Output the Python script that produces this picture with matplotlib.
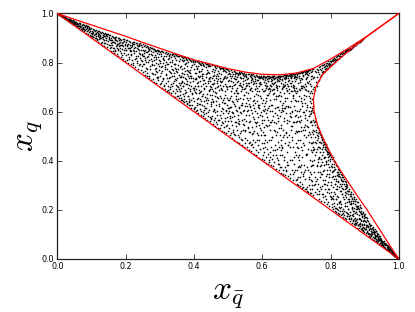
import numpy as np
import matplotlib
matplotlib.use('Agg')
import matplotlib.pyplot as plt

plt.rcParams['mathtext.fontset'] = 'cm'

# boundary of the allowed region (upper curve); the right curve is its mirror image
bound_xqbar = [0.0, 0.05, 0.10, 0.15, 0.20, 0.25, 0.30, 0.35, 0.40, 0.45, 0.50,
               0.55, 0.60, 0.65, 0.70, 0.75, 0.80, 0.85, 0.90, 0.95, 1.0]
bound_xq = [1.0, 0.976, 0.953, 0.930, 0.907, 0.882, 0.858, 0.834, 0.811, 0.793, 0.775,
            0.761, 0.752, 0.750, 0.757, 0.776, 0.814, 0.856, 0.901, 0.950, 1.0]
diag_xqbar = [0.0, 1.0]
diag_xq = [1.0, 0.0]

# sampled events, (x_qbar, x_q) pairs in units of 1/1000, read strip by strip
corner_left = [3,998, 5,996, 6,995, 7,995, 8,993, 9,994, 10,991, 11,992, 12,989, 13,990, 14,988, 14,990, 15,987, 16,989, 17,985, 18,987, 19,983, 19,987, 20,984, 21,986, 22,981, 22,985, 23,983, 24,979, 25,982, 26,976, 27,980, 28,975, 29,978, 29,974, 30,973, 31,979, 32,971, 33,976, 33,979, 34,969, 35,974, 36,978, 36,967, 37,966, 38,972, 39,969, 40,963, 41,975, 42,967, 43,961, 43,966, 44,970, 45,958, 46,966, 47,972, 48,955, 48,960, 49,962, 50,968,
    51,960, 52,966, 53,952, 54,957, 55,964, 56,948, 57,955, 58,961, 58,950, 59,944, 60,952, 61,958, 62,947, 63,962, 64,940, 65,950, 66,956, 66,947, 67,944, 68,959, 69,936, 70,948, 71,953, 72,931, 73,941, 74,955, 74,940, 75,935, 76,946, 77,951, 78,927, 79,938, 80,949, 81,932, 82,943, 83,951, 84,922, 85,936, 86,945, 87,928, 87,948, 88,940, 89,947, 90,917, 91,933, 92,941, 93,925, 93,935, 94,944, 95,912, 96,930, 97,938, 98,920, 99,941, 100,908]

band_left = [101,915, 102,930, 103,909, 104,938, 105,905, 106,922, 108,933, 109,912, 110,927, 111,900, 112,920, 113,918, 114,932, 115,891, 116,925, 117,894, 118,908, 119,930, 120,885, 121,917, 122,927, 123,904, 124,898, 125,912, 126,925, 127,880, 128,920, 130,904, 131,924, 132,873, 133,913, 134,896, 135,921, 136,890, 137,918, 138,868, 139,907, 140,920, 141,881, 142,912, 143,917, 144,898, 145,915, 146,862, 147,906, 148,915, 149,887, 150,911,
    151,870, 152,905, 153,890, 154,858, 155,912, 156,880, 157,898, 157,865, 158,848, 159,908, 160,872, 161,893, 162,845, 163,905, 164,885, 165,860, 166,900, 167,840, 168,878, 168,892, 169,905, 170,852, 171,893, 172,868, 173,902, 174,834, 175,887, 176,858, 177,899, 178,876, 179,828, 179,850, 180,892, 181,866, 182,900, 183,845, 184,884, 185,897, 185,872, 186,822, 187,872, 188,893, 189,856, 190,880, 190,830, 191,896, 192,815, 193,866, 194,889, 195,840, 196,894, 197,872, 198,808, 199,858, 200,890,
    201,850, 202,885, 203,812, 204,868, 205,890, 205,870, 206,835, 207,877, 208,800, 209,858, 210,888, 211,822, 212,872, 213,846, 213,860, 214,884, 215,795, 215,845, 216,862, 217,830, 218,880, 219,810, 220,868, 221,884, 222,850, 222,875, 223,788, 224,875, 225,838, 226,883, 227,815, 228,862, 229,780, 230,878, 231,845, 231,825, 232,870, 233,800, 234,881, 235,826, 235,866, 236,857, 237,772, 238,875, 239,840, 240,866, 240,850, 241,795, 242,878, 243,818, 244,853, 244,870, 245,768, 246,872, 247,834, 247,785, 248,862, 249,806, 250,874,
    102,920, 106,905, 110,915, 114,900, 118,912, 122,895, 126,908, 130,885, 134,905, 138,880, 142,898, 146,875, 150,895, 154,870, 158,890, 162,860, 166,885, 170,845, 174,875, 178,855, 182,880, 186,840, 190,870, 194,850, 198,875, 202,830, 206,860, 210,815, 214,850, 218,870, 222,800, 226,845, 230,820, 234,860, 238,790, 242,835, 246,810, 250,850, 104,925, 112,910, 120,920, 128,900, 136,910, 144,890, 152,900, 160,885, 168,895, 176,870, 184,860, 192,885, 200,850, 208,875, 216,835, 224,860, 232,805, 240,870, 248,830]

band_mid = [251,763, 252,827, 253,866, 254,795, 255,848, 255,825, 256,872, 257,812, 258,748, 258,853, 259,862, 260,777, 261,843, 262,868, 262,756, 263,821, 264,745, 265,858, 265,845, 266,803, 267,864, 268,835, 268,855, 269,738, 270,849, 270,857, 271,772, 272,862, 273,815, 274,845, 275,728, 275,859, 276,858, 277,788, 278,832, 278,795, 279,856, 280,752, 281,843, 282,809, 282,855, 283,857, 284,722, 285,832, 285,845, 286,851, 287,775, 288,848, 288,822, 289,798, 290,716, 290,767, 291,838, 292,853, 292,735, 293,761, 294,824, 295,849, 296,743, 296,845, 297,812, 298,846, 298,834, 299,785, 300,842,
    301,713, 302,797, 303,845, 304,758, 304,835, 305,826, 306,698, 307,846, 308,785, 308,725, 309,819, 310,735, 310,815, 311,843, 312,706, 312,826, 313,812, 314,774, 315,838, 315,783, 316,693, 317,826, 318,751, 318,804, 319,842, 320,795, 320,737, 321,684, 322,835, 323,723, 324,815, 324,688, 325,838, 326,764, 326,828, 327,679, 327,817, 328,831, 329,801, 330,836, 330,702, 331,742, 332,674, 333,822, 333,757, 334,785, 335,834, 336,705, 336,832, 337,812, 338,836, 339,662, 340,769, 340,715, 341,828, 342,746, 342,827, 343,796, 344,833, 344,733, 345,658, 346,818, 346,792, 347,694, 348,829, 349,772, 349,811, 350,825,
    351,665, 352,762, 353,828, 353,791, 354,699, 355,805, 355,825, 356,655, 357,828, 358,741, 358,686, 359,815, 360,683, 361,787, 361,718, 362,826, 362,745, 363,648, 364,721, 364,812, 365,822, 365,759, 366,773, 367,643, 368,808, 368,819, 369,704, 370,824, 370,665, 371,755, 372,638, 372,812, 373,795, 374,822, 375,676, 375,793, 376,814, 377,732, 377,799, 378,817, 379,633, 379,771, 380,785, 381,711, 381,812, 382,818, 383,664, 383,745, 384,802, 385,763, 385,642, 386,816, 386,651, 387,625, 388,692, 388,768, 389,812, 389,628, 390,745, 391,805, 391,735, 392,615, 393,782, 393,807, 394,814, 395,673, 395,789, 396,802, 397,725, 397,808, 398,812, 399,612, 399,697, 400,795,
    401,614, 402,757, 403,808, 404,681, 404,803, 405,786, 405,734, 406,603, 407,738, 408,805, 408,772, 409,652, 410,779, 410,625, 411,722, 412,802, 412,703, 413,595, 413,785, 414,765, 415,689, 415,805, 416,797, 416,761, 417,631, 418,792, 418,794, 419,745, 419,678, 420,586, 421,803, 421,644, 422,705, 422,791, 423,775, 424,663, 424,747, 425,798, 425,754, 426,583, 427,728, 427,788, 428,795, 428,671, 429,622, 430,785, 430,607, 431,698, 431,592, 432,798, 433,575, 433,717, 434,755, 434,613, 435,795, 436,647, 436,781, 437,769, 437,793, 438,566, 439,792, 439,656, 440,724, 440,795, 441,785, 442,598, 442,762, 443,791, 443,731, 444,684, 445,758, 445,785, 446,787, 446,705, 447,563, 448,742, 448,691, 449,792, 449,575, 450,639,
    451,571, 452,739, 452,694, 453,788, 454,653, 454,765, 455,775, 455,602, 456,548, 457,712, 457,638, 458,788, 458,748, 459,611, 460,763, 460,718, 461,681, 461,785, 462,783, 463,542, 463,597, 463,771, 464,735, 465,643, 466,778, 466,558, 467,588, 467,701, 468,755, 469,784, 469,725, 469,659, 470,535, 471,706, 472,767, 472,744, 473,623, 473,757, 474,782, 474,566, 475,533, 475,773, 476,725, 476,778, 477,665, 478,776, 478,604, 479,575, 479,719, 480,752, 480,696, 481,779, 481,641, 482,522, 483,687, 484,772, 484,733, 485,609, 485,765, 485,552, 486,778, 487,735, 487,769, 488,518, 489,655, 490,776, 490,682, 491,765, 491,636, 491,745, 492,561, 493,705, 493,601, 494,772, 495,512, 495,761, 496,741, 496,545, 497,627, 497,699, 498,772, 499,593, 499,768, 500,755]

# interior of the body, between the diagonal and the upper curve
body_fill = [252,793, 254,838, 256,766, 258,817, 260,802, 262,844, 264,774, 266,826, 268,747, 270,811, 272,785, 274,833, 276,759, 278,806, 280,734, 282,788, 284,823, 286,752, 288,777, 290,814, 292,741, 294,796, 296,728, 298,769, 300,808,
    302,744, 303,783, 305,716, 307,765, 309,799, 311,732, 313,709, 315,788, 317,754, 319,718, 321,773, 323,704, 325,795, 327,737, 329,762, 331,693, 333,713, 335,775, 337,745, 339,686, 341,757, 343,724, 345,792, 346,676, 347,708, 348,767, 349,728, 350,684, 336,802, 344,779,
    351,703, 352,736, 353,663, 354,772, 355,717, 356,694, 357,749, 358,668, 359,707, 360,782, 361,742, 362,657, 363,695, 364,758, 365,724, 366,646, 367,705, 368,743, 369,672, 370,777, 371,716, 372,653, 373,738, 374,687, 375,764, 376,644, 377,713, 378,679, 379,753, 380,725, 381,634, 382,698, 383,766, 384,662, 385,737, 386,708, 387,638, 388,756, 389,683, 390,722, 391,648, 392,704, 393,746, 394,626, 395,677, 396,735, 397,696, 398,655, 399,773, 400,688,
    401,645, 402,703, 403,732, 404,617, 405,674, 406,759, 407,693, 408,636, 409,717, 410,608, 411,746, 412,657, 413,705, 414,633, 415,742, 416,676, 417,612, 418,725, 419,653, 420,767, 421,604, 422,686, 423,737, 424,628, 425,665, 426,714, 427,597, 428,752, 429,643, 430,694, 431,727, 432,614, 433,658, 434,743, 435,593, 436,706, 437,634, 438,756, 439,673, 440,718, 441,584, 442,649, 443,687, 444,736, 445,606, 446,667, 447,723, 448,578, 449,633, 450,702,
    451,624, 452,668, 453,713, 454,583, 455,744, 456,645, 457,686, 458,564, 459,729, 460,606, 461,664, 462,697, 463,574, 464,747, 465,627, 466,676, 467,548, 468,717, 469,603, 470,655, 471,732, 472,565, 473,688, 474,633, 475,709, 476,587, 477,738, 478,544, 479,657, 480,692, 481,615, 482,726, 483,556, 484,648, 485,704, 486,594, 487,741, 488,537, 489,634, 490,713, 491,573, 492,666, 493,736, 494,608, 495,543, 496,693, 497,655, 498,577, 499,724, 500,616,
    501,563, 502,604, 503,646, 504,534, 505,703, 506,617, 507,576, 508,737, 509,514, 510,663, 511,598, 512,705, 513,547, 514,638, 515,722, 516,508, 517,583, 518,677, 519,623, 520,504, 521,732, 522,664, 523,557, 524,606, 525,697, 526,524, 527,644, 528,726, 529,585, 530,675, 531,496, 532,616, 533,548, 534,707, 535,656, 536,513, 537,593, 538,736, 539,625, 540,566, 541,694, 542,483, 543,653, 544,527, 545,714, 546,605, 547,572, 548,668, 549,494, 550,623, 512,577, 524,684, 536,717, 548,546, 530,554,
    551,526, 552,563, 553,637, 554,703, 555,485, 556,604, 557,676, 558,535, 559,717, 560,473, 561,633, 562,585, 563,694, 564,516, 565,654, 566,463, 567,722, 568,605, 569,537, 570,686, 571,507, 572,626, 573,454, 574,713, 575,568, 576,523, 577,647, 578,693, 579,476, 580,604, 581,553, 582,716, 583,445, 584,644, 585,514, 586,683, 587,577, 588,435, 589,626, 590,704, 591,544, 592,486, 593,663, 594,587, 595,446, 596,712, 597,525, 598,634, 599,474, 600,565, 556,655, 568,697, 576,614, 584,556, 592,684, 560,557, 572,485, 588,617, 596,506, 564,624,
    601,453, 602,517, 603,606, 604,683, 605,434, 606,564, 607,636, 608,505, 609,707, 610,414, 611,594, 612,656, 613,475, 614,543, 615,703, 616,426, 617,616, 618,564, 619,484, 620,677, 621,405, 622,603, 623,524, 624,647, 625,455, 626,556, 627,704, 628,406, 629,626, 630,497, 631,673, 632,444, 633,584, 634,526, 635,694, 636,393, 637,614, 638,466, 639,664, 640,553, 641,424, 642,703, 643,516, 644,617, 645,386, 646,575, 647,663, 648,456, 649,534, 650,606, 606,474, 614,666, 622,437, 630,716, 638,594, 646,404, 610,546, 618,694, 626,484, 634,653, 642,447, 650,386, 604,624, 628,565, 640,503,
    651,424, 652,503, 653,584, 654,664, 655,374, 656,544, 657,616, 658,453, 659,697, 660,364, 661,603, 662,524, 663,676, 664,404, 665,563, 666,643, 667,474, 668,707, 669,357, 670,594, 671,513, 672,657, 673,434, 674,564, 675,703, 676,384, 677,623, 678,504, 679,676, 680,347, 681,583, 682,454, 683,644, 684,527, 685,706, 686,403, 687,597, 688,484, 689,667, 690,344, 691,556, 692,624, 693,417, 694,697, 695,514, 696,363, 697,647, 698,473, 699,587, 700,424, 656,466, 664,703, 672,383, 680,617, 688,543, 696,684, 660,497, 668,613, 676,463, 684,577, 692,386, 700,644, 654,443, 666,376, 678,563, 690,457, 698,556, 658,626, 674,496,
    701,363, 702,454, 703,563, 704,643, 705,334, 706,523, 707,604, 708,403, 709,693, 710,314, 711,484, 712,584, 713,654, 714,353, 715,537, 716,444, 717,703, 718,304, 719,597, 720,524, 721,384, 722,667, 723,463, 724,324, 725,576, 726,636, 727,424, 728,497, 729,706, 730,294, 731,564, 732,617, 733,364, 734,447, 735,684, 736,303, 737,516, 738,603, 739,404, 740,657, 741,284, 742,474, 743,557, 744,344, 745,616, 746,434, 747,284, 748,527, 749,384, 750,476, 704,417, 708,523, 712,376, 716,624, 720,337, 724,546, 728,663, 732,426, 736,583, 740,507, 744,377, 748,443, 702,683, 706,376, 710,556, 714,697, 718,414, 722,503, 726,364, 730,626, 734,537, 738,326, 742,596, 746,316, 703,304, 711,334, 719,293, 727,286, 735,274, 743,267]

band_right = [501,523, 501,647, 502,703, 503,767, 503,727, 504,613, 504,758, 505,745, 505,584, 506,503, 507,657, 507,755, 508,768, 508,618, 509,563, 509,684, 510,725, 511,763, 511,745, 512,494, 512,597, 513,643, 513,696, 514,755, 514,527, 515,593, 515,517, 516,764, 516,737, 517,708, 517,632, 518,485, 519,753, 519,556, 520,624, 520,747, 521,762, 521,713, 522,543, 523,732, 523,687, 524,759, 524,652, 525,478, 525,743, 526,676, 526,722, 527,757, 527,604, 528,568, 528,755, 529,748, 529,505, 530,653, 531,761, 531,617, 532,474, 532,562, 533,707, 533,756, 534,752, 535,598, 535,741, 536,759, 537,522, 537,763, 538,736, 538,705, 539,683, 539,487, 540,758, 540,636, 541,465, 541,702, 542,625, 543,755, 543,603, 544,723, 544,751, 545,548, 545,735, 546,757, 546,693, 547,667, 547,744, 548,458, 549,749, 549,728, 550,697, 550,523,
    551,473, 552,678, 552,741, 553,753, 553,717, 554,588, 554,746, 555,734, 555,623, 556,454, 556,708, 557,648, 558,752, 558,606, 559,537, 559,738, 560,715, 561,755, 561,704, 562,443, 562,516, 563,617, 564,744, 564,477, 565,563, 565,687, 566,752, 566,727, 567,698, 567,743, 568,438, 568,748, 569,736, 570,594, 570,731, 571,749, 571,467, 572,513, 573,723, 573,577, 574,752, 574,643, 575,428, 576,664, 576,746, 577,744, 577,718, 578,557, 578,742, 579,733, 579,692, 580,637, 580,724, 581,748, 582,423, 582,673, 583,706, 583,543, 584,745, 584,483, 585,596, 585,728, 586,747, 586,697, 587,504, 588,729, 588,463, 589,668, 589,742, 590,746, 590,716, 591,412, 591,628, 592,613, 592,737, 593,743, 594,712, 594,739, 595,533, 595,721, 596,745, 596,597, 597,654, 597,741, 598,408, 598,552, 599,738, 600,693, 600,583,
    601,423, 601,741, 602,646, 602,733, 603,744, 603,684, 604,537, 604,746, 605,719, 605,503, 606,404, 606,602, 607,612, 607,457, 607,728, 608,742, 608,687, 609,484, 609,737, 610,703, 610,643, 611,743, 611,696, 612,392, 612,715, 613,578, 613,746, 614,732, 614,606, 615,447, 615,705, 616,745, 616,723, 617,667, 617,739, 618,388, 618,726, 619,738, 619,395, 619,698, 620,544, 620,736, 621,744, 621,623, 622,417, 622,683, 623,708, 623,558, 624,743, 624,692, 625,383, 625,734, 626,627, 626,704, 627,742, 627,723, 628,497, 628,741, 629,727, 629,687, 630,603, 630,745, 631,746, 631,424, 631,713, 632,377, 632,738, 633,693, 633,743, 634,744, 634,716, 635,556, 635,733, 636,746, 636,677, 637,443, 637,737, 638,722, 638,523, 639,653, 639,707, 640,742, 640,702, 641,368, 641,662, 642,587, 642,726, 643,743, 643,413, 643,688, 644,697, 644,734, 645,476, 645,741, 646,747, 646,563, 647,617, 647,729, 648,362, 648,703, 649,736, 649,744, 650,667, 650,724,
    651,373, 651,743, 652,644, 652,731, 653,747, 653,678, 654,533, 654,746, 655,718, 655,483, 656,352, 656,597, 657,607, 657,423, 657,728, 658,744, 658,694, 659,457, 659,733, 660,701, 660,637, 661,747, 661,706, 662,345, 662,714, 663,573, 663,749, 663,504, 664,737, 664,613, 665,416, 665,703, 666,748, 666,721, 667,657, 667,742, 668,343, 668,732, 669,741, 669,363, 669,697, 670,517, 670,739, 670,746, 671,751, 671,622, 672,393, 672,684, 673,712, 673,553, 674,748, 674,687, 675,336, 675,738, 675,463, 676,617, 676,705, 677,744, 677,726, 678,477, 678,750, 679,728, 679,693, 680,593, 680,747, 681,752, 681,403, 681,718, 682,329, 682,745, 683,686, 683,753, 684,751, 684,716, 684,738, 685,543, 685,742, 686,752, 686,683, 687,364, 687,746, 687,604, 688,723, 688,496, 689,654, 689,707, 690,755, 690,702, 691,322, 691,663, 692,557, 692,736, 693,749, 693,353, 693,688, 694,703, 694,741, 695,437, 695,743, 696,754, 696,584, 696,724, 697,607, 697,747, 698,323, 698,697, 699,742, 699,756, 699,523, 700,677, 700,734,
    701,324, 701,748, 702,603, 702,743, 703,754, 703,682, 703,518, 704,484, 704,757, 705,717, 705,453, 706,303, 706,577, 707,562, 707,377, 707,736, 708,758, 708,663, 709,423, 709,744, 710,687, 710,612, 711,759, 711,722, 712,297, 712,727, 713,523, 713,761, 713,458, 714,738, 714,566, 715,384, 715,706, 715,643, 716,762, 716,697, 717,636, 717,756, 718,287, 718,733, 719,751, 719,344, 719,704, 720,473, 720,747, 720,763, 721,764, 721,597, 722,353, 722,653, 723,702, 723,537, 724,761, 724,693, 725,283, 725,752, 725,526, 726,587, 726,712, 727,757, 727,731, 727,606, 728,427, 728,764, 729,737, 729,688, 730,543, 730,754, 731,767, 731,373, 731,721, 732,277, 732,762, 732,742, 733,683, 733,768, 734,766, 734,717, 735,503, 735,751, 736,769, 736,664, 737,334, 737,757, 737,583, 738,724, 738,477, 739,617, 739,713, 739,556, 740,771, 740,676, 740,354, 741,268, 741,643, 741,592, 742,563, 742,732, 742,498, 743,763, 743,323, 743,684, 743,443, 744,703, 744,746, 744,604, 744,637, 745,397, 745,767, 745,517, 745,303, 746,772, 746,544, 746,473, 746,677, 747,653, 747,744, 747,607, 747,383, 748,262, 748,692, 748,564, 748,507, 749,739, 749,772, 749,454, 749,623, 750,597]

lobe_low = [751,593, 752,557, 752,404, 753,523, 753,446, 754,575, 754,333, 755,478, 755,562, 756,547, 756,306, 757,434, 757,526, 758,558, 758,473, 759,377, 759,505, 760,537, 760,264, 761,327, 761,484, 762,502, 762,396, 763,535, 763,407, 764,458, 764,513, 765,276, 765,518, 766,525, 766,244, 767,413, 767,476, 768,517, 768,293, 769,354, 769,452, 770,507, 770,436, 771,238, 771,497, 772,474, 772,505, 773,503, 773,383, 774,297, 774,495, 775,487, 775,346, 776,423, 776,485, 777,488, 777,466, 778,263, 778,357, 779,478, 779,455, 780,384, 780,467, 781,478, 781,416, 782,234, 782,476, 783,447, 783,304, 784,468, 784,256, 785,323, 785,458, 786,468, 786,393, 787,397, 787,455, 788,463, 788,443, 789,225, 789,427, 790,453, 790,302, 791,348, 791,438, 792,448, 792,386, 793,283, 793,403, 794,437, 794,426, 795,418, 795,267, 796,215, 796,432, 797,436, 797,333, 798,364, 798,423, 799,428, 799,406, 800,253, 800,425,
    801,303, 802,417, 802,243, 803,213, 803,353, 804,376, 805,248, 805,387, 806,415, 806,357, 807,336, 807,257, 808,204, 809,397, 809,227, 810,273, 810,386, 811,364, 811,398, 812,195, 813,393, 813,337, 814,306, 814,208, 815,246, 815,317, 816,383, 817,193, 817,284, 818,343, 818,297, 819,378, 819,223, 820,257, 821,187, 821,356, 822,367, 822,198, 823,314, 823,347, 824,226, 825,363, 825,233, 826,183, 826,337, 827,277, 827,206, 828,353, 829,238, 829,334, 830,348, 830,213, 831,177, 831,296, 832,323, 833,343, 833,264, 834,197, 834,316, 835,287, 835,332, 836,334, 837,172, 837,318, 838,253, 838,186, 839,324, 839,194, 840,304, 841,168, 841,227, 842,317, 842,262, 843,217, 843,283, 844,313, 845,267, 845,306, 846,163, 846,287, 847,303, 847,214, 848,188, 849,293, 849,176, 850,244, 850,278,
    851,203, 852,276, 853,163, 853,233, 854,237, 855,283, 855,174, 856,177, 857,258, 857,193, 858,153, 859,224, 859,263, 860,273, 861,168, 861,227, 862,248, 863,147, 863,203, 864,207, 865,264, 865,183, 866,157, 867,235, 867,173, 868,143, 869,197, 869,243, 870,253, 871,153, 871,237, 872,223, 873,138, 873,167, 874,193, 875,243, 875,157, 876,148, 877,213, 877,152, 878,128, 879,183, 879,217, 880,233, 881,137, 881,208, 882,203, 883,127, 883,163, 884,168, 885,218, 885,148, 886,133, 887,193, 887,142, 888,123, 889,158, 889,188, 890,207, 891,127, 891,172, 892,183, 893,117, 893,137, 894,153, 895,192, 895,132, 896,118, 897,173, 897,127, 898,108, 899,143, 899,157, 900,182]

lobe_fill = [751,303, 752,447, 753,356, 754,497, 755,273, 756,424, 757,317, 758,516, 759,383, 760,284, 761,446, 762,354, 763,493, 764,306, 765,417, 766,263, 767,456, 768,377, 769,334, 770,476, 771,285, 772,408, 773,347, 774,446, 775,264, 776,393, 777,323, 778,437, 779,254, 780,413, 781,306, 782,364, 783,457, 784,283, 785,416, 786,336, 787,243, 788,387, 789,436, 790,274, 791,363, 792,314, 793,417, 794,233, 795,376, 796,286, 797,344, 798,397, 799,256, 800,313,
    801,377, 802,274, 803,334, 804,223, 805,406, 806,293, 807,357, 808,246, 809,324, 810,376, 811,217, 812,304, 813,263, 814,366, 815,207, 816,327, 817,244, 818,356, 819,284, 820,203, 821,317, 822,254, 823,337, 824,213, 825,293, 826,346, 827,234, 828,307, 829,194, 830,276, 831,326, 832,224, 833,304, 834,183, 835,264, 836,316, 837,204, 838,286, 839,243, 840,177, 841,297, 842,214, 843,273, 844,193, 845,254, 846,296, 847,173, 848,233, 849,277, 850,204,
    851,263, 852,184, 853,243, 854,276, 855,167, 856,224, 857,266, 858,193, 859,237, 860,163, 861,256, 862,213, 863,177, 864,246, 865,153, 866,227, 867,194, 868,252, 869,164, 870,207, 871,147, 872,236, 873,187, 874,217, 875,143, 876,204, 877,232, 878,163, 879,203, 880,137, 881,216, 882,177, 883,143, 884,197, 885,163, 886,212, 887,133, 888,183, 889,153, 890,197, 891,143, 892,173, 893,127, 894,187, 895,153, 896,113, 897,167, 898,137, 899,177, 900,123,
    902,153, 904,123, 906,157, 908,133, 910,107, 912,143, 914,117, 916,137, 918,97, 920,123, 922,103, 924,117, 926,87, 928,107, 930,97, 932,113, 934,83, 936,97, 938,72, 940,87, 942,77, 944,84, 946,63, 948,78, 950,64]

corner_right = [901,120, 902,170, 903,105, 903,140, 904,150, 905,170, 905,130, 906,110, 907,140, 907,115, 908,165, 909,100, 910,130, 911,155, 911,135, 912,95, 913,120, 913,100, 914,148, 915,100, 915,125, 916,135, 917,88, 918,115, 919,140, 919,105, 920,95, 921,125, 921,110, 922,82, 923,108, 923,120, 924,130, 925,90, 926,115, 927,78, 927,110, 928,100, 929,120, 929,95, 930,85, 931,110, 931,90, 932,72, 933,95, 934,112, 935,78, 935,105, 936,100, 937,68, 937,95, 938,88, 939,100, 939,80, 940,72, 941,95, 942,62, 943,82, 943,95, 944,92, 945,65, 945,78, 946,85, 947,58, 947,70, 948,75, 949,82, 950,60,
    951,60, 952,75, 952,58, 953,52, 954,68, 955,58, 955,70, 956,72, 957,48, 957,65, 958,62, 958,50, 959,66, 960,45, 961,55, 961,62, 962,60, 963,40, 963,55, 964,50, 964,42, 965,58, 966,38, 967,46, 967,52, 968,54, 969,35, 969,45, 970,42, 970,36, 971,48, 972,32, 973,38, 973,44, 974,41, 975,28, 975,35, 976,35, 976,30, 977,36, 978,25, 979,30, 979,26, 980,31, 981,21, 981,28, 982,26, 982,22, 983,26, 984,18, 985,22, 985,18, 986,20, 987,14, 988,17, 988,14, 989,16, 990,11, 991,13, 991,10, 992,9, 993,11, 994,7, 995,8, 996,5, 997,4, 998,3]

cusp = [752,700, 753,740, 754,765, 756,690, 757,720, 758,760, 759,775, 760,705, 761,740, 762,770, 763,725, 764,760, 765,782, 766,730, 767,755, 768,775, 769,740, 770,785, 771,750, 772,770, 773,745, 774,788, 775,760, 776,778, 777,758, 778,790, 779,765, 780,780, 781,760, 782,795, 783,772, 784,785, 785,765, 786,798, 787,778, 788,790, 789,772, 790,800, 791,785, 792,795, 793,778, 794,805, 795,790, 796,800, 797,785, 798,808, 799,795, 800,803,
    801,790, 802,805, 803,812, 805,795, 806,808, 807,815, 809,800, 810,812, 811,820, 813,805, 814,815, 816,810, 817,822, 819,815, 820,825, 822,815, 823,830, 825,820, 826,828, 828,825, 829,835, 831,828, 832,838, 834,833, 835,842, 837,838, 838,845, 840,840, 841,848, 843,842, 844,850, 846,848, 847,853, 849,850, 850,855,
    851,848, 853,852, 855,856, 856,850, 858,858, 860,856, 862,862, 863,858, 865,866, 867,863, 869,870, 870,867, 872,873, 874,870, 876,878, 878,880, 880,880, 882,883, 885,884, 888,889, 892,893, 895,896]

events = np.array(corner_left + band_left + band_mid + body_fill + band_right
                  + lobe_low + lobe_fill + corner_right + cusp,
                  dtype=float).reshape(-1, 2) / 1000.0
xqbar = events[:, 0]
xq = events[:, 1]

fig = plt.figure(figsize=(4.15, 3.12), dpi=100)
ax = fig.add_axes([0.138, 0.170, 0.823, 0.787])

ax.scatter(xqbar, xq, s=1.4, c='k', marker='o', linewidths=0, zorder=2)

ax.plot(bound_xqbar, bound_xq, color='r', lw=0.9, zorder=3)
ax.plot(bound_xq, bound_xqbar, color='r', lw=0.9, zorder=3)
ax.plot(diag_xqbar, diag_xq, color='r', lw=0.9, zorder=3)

ax.set_xlim(0, 1)
ax.set_ylim(0, 1)
ticks = [0.0, 0.2, 0.4, 0.6, 0.8, 1.0]
ax.set_xticks(ticks)
ax.set_yticks(ticks)
ax.set_xticklabels(['%.1f' % t for t in ticks])
ax.set_yticklabels(['%.1f' % t for t in ticks])
ax.tick_params(direction='in', top=True, right=True, length=3.5, width=0.5,
               labelsize=5.8, pad=2.5, colors='k')
for sp in ax.spines.values():
    sp.set_linewidth(0.9)
    sp.set_color('#222222')

ax.set_xlabel(r'$x_{\bar{q}}$', fontsize=24)
ax.set_ylabel(r'$x_q$', fontsize=24)
ax.xaxis.set_label_coords(0.5, -0.075)
ax.yaxis.set_label_coords(-0.04, 0.5)

fig.savefig('out.png', dpi=100)
